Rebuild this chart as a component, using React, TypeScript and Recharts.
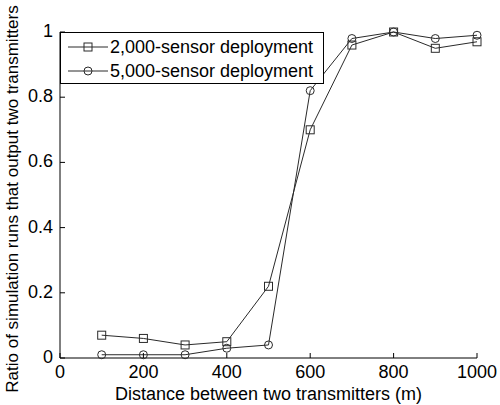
import { Legend, Line, LineChart, XAxis, YAxis } from "recharts";

// distances (m) and ratio of runs that output two transmitters
const distances = [100, 200, 300, 400, 500, 600, 700, 800, 900, 1000];
const ratio2000 = [0.07, 0.06, 0.04, 0.05, 0.22, 0.7, 0.96, 1.0, 0.95, 0.97];
const ratio5000 = [0.01, 0.01, 0.01, 0.03, 0.04, 0.82, 0.98, 1.0, 0.98, 0.99];
const xTicks = [0, 200, 400, 600, 800, 1000];
const yTicks = [0, 0.2, 0.4, 0.6, 0.8, 1];
const seriesNames = ["2,000-sensor deployment", "5,000-sensor deployment"];

const data = distances.map((d, i) => ({ distance: d, s2000: ratio2000[i], s5000: ratio5000[i] }));

const ink = "#2a2a2a";
const font = "Arial, 'Liberation Sans', Helvetica, sans-serif";
const TICK = 5;
const GAP = 7;

function Square({ cx, cy, size = 8 }: { cx: number; cy: number; size?: number }) {
  return <rect x={cx - size / 2} y={cy - size / 2} width={size} height={size} fill="none" stroke={ink} strokeWidth={1} />;
}

function Circle({ cx, cy }: { cx: number; cy: number }) {
  return <circle cx={cx} cy={cy} r={4} fill="none" stroke={ink} strokeWidth={1} />;
}

function BottomTick({ x, y, payload }: any) {
  const axisY = y - GAP;
  return (
    <g>
      <line x1={x} y1={axisY} x2={x} y2={axisY - TICK} stroke="#000" />
      <text x={x} y={y + 13} textAnchor="middle" fontSize={18} fontFamily={font} fill="#000">
        {payload.value}
      </text>
    </g>
  );
}

function LeftTick({ x, y, payload }: any) {
  const axisX = x + GAP;
  return (
    <g>
      <line x1={axisX} y1={y} x2={axisX + TICK} y2={y} stroke="#000" />
      <text x={x} y={y + 5} textAnchor="end" fontSize={18} fontFamily={font} fill="#000">
        {String(payload.value)}
      </text>
    </g>
  );
}

function TopTick({ x, y }: any) {
  return <line x1={x} y1={y} x2={x} y2={y + TICK} stroke="#000" />;
}

function RightTick({ x, y }: any) {
  return <line x1={x} y1={y} x2={x - TICK} y2={y} stroke="#000" />;
}

function LegendBox({ payload }: any) {
  return (
    <div
      style={{
        boxSizing: "border-box",
        width: 264,
        height: 52,
        border: "1px solid #000",
        background: "#fff",
        paddingTop: 2,
        fontFamily: font,
        fontSize: 18,
        color: "#000",
      }}
    >
      {(payload || []).map((entry: any) => (
        <div key={entry.dataKey} style={{ display: "flex", alignItems: "center", height: 24, lineHeight: "24px" }}>
          <svg width={49} height={24} style={{ flex: "none" }}>
            <line x1={7} y1={12} x2={47} y2={12} stroke={ink} />
            {entry.dataKey === "s2000" ? <Square cx={27} cy={12} /> : <Circle cx={27} cy={12} />}
          </svg>
          <span style={{ whiteSpace: "nowrap" }}>{entry.value}</span>
        </div>
      ))}
    </div>
  );
}

export default function App() {
  return (
    <div style={{ position: "absolute", left: 0, top: 0, background: "#fff" }}>
      <LineChart width={500} height={405} data={data} margin={{ top: 32, right: 23, bottom: 17, left: 20 }}>
        <XAxis
          dataKey="distance"
          type="number"
          domain={[0, 1000]}
          ticks={xTicks}
          height={30}
          tickSize={0}
          tickMargin={GAP}
          tickLine={false}
          axisLine={{ stroke: "#000" }}
          tick={BottomTick}
          interval={0}
          label={{
            content: ({ viewBox }: any) => (
              <text
                x={viewBox.x + viewBox.width / 2}
                y={viewBox.y + 42}
                textAnchor="middle"
                fontSize={18}
                fontFamily={font}
                fill="#000"
              >
                Distance between two transmitters (m)
              </text>
            ),
          }}
        />
        <XAxis
          xAxisId="top"
          orientation="top"
          type="number"
          domain={[0, 1000]}
          ticks={xTicks}
          height={0}
          tickSize={0}
          tickMargin={0}
          tickLine={false}
          axisLine={{ stroke: "#000" }}
          tick={TopTick}
          interval={0}
        />
        <YAxis
          type="number"
          domain={[0, 1]}
          ticks={yTicks}
          width={40}
          tickSize={0}
          tickMargin={GAP}
          tickLine={false}
          axisLine={{ stroke: "#000" }}
          tick={LeftTick}
          interval={0}
          label={{
            content: ({ viewBox }: any) => {
              const cx = viewBox.x - 8;
              const cy = viewBox.y + viewBox.height / 2 + 4;
              return (
                <text
                  x={cx}
                  y={cy}
                  transform={`rotate(-90 ${cx} ${cy})`}
                  textAnchor="middle"
                  dominantBaseline="central"
                  fontSize={17}
                  fontFamily={font}
                  fill="#000"
                >
                  Ratio of simulation runs that output two transmitters
                </text>
              );
            },
          }}
        />
        <YAxis
          yAxisId="right"
          orientation="right"
          type="number"
          domain={[0, 1]}
          ticks={yTicks}
          width={0}
          tickSize={0}
          tickMargin={0}
          tickLine={false}
          axisLine={{ stroke: "#000" }}
          tick={RightTick}
          interval={0}
        />
        <Legend
          layout="vertical"
          align="center"
          verticalAlign="middle"
          content={LegendBox}
          wrapperStyle={{ left: 60, top: 32, width: 264, height: 52 }}
        />
        <Line
          name={seriesNames[0]}
          dataKey="s2000"
          type="linear"
          stroke={ink}
          strokeWidth={1}
          isAnimationActive={false}
          dot={(p: any) => <Square key={`sq-${p.index}`} cx={p.cx} cy={p.cy} />}
          activeDot={false}
        />
        <Line
          name={seriesNames[1]}
          dataKey="s5000"
          type="linear"
          stroke={ink}
          strokeWidth={1}
          isAnimationActive={false}
          dot={(p: any) => <Circle key={`ci-${p.index}`} cx={p.cx} cy={p.cy} />}
          activeDot={false}
        />
      </LineChart>
    </div>
  );
}
